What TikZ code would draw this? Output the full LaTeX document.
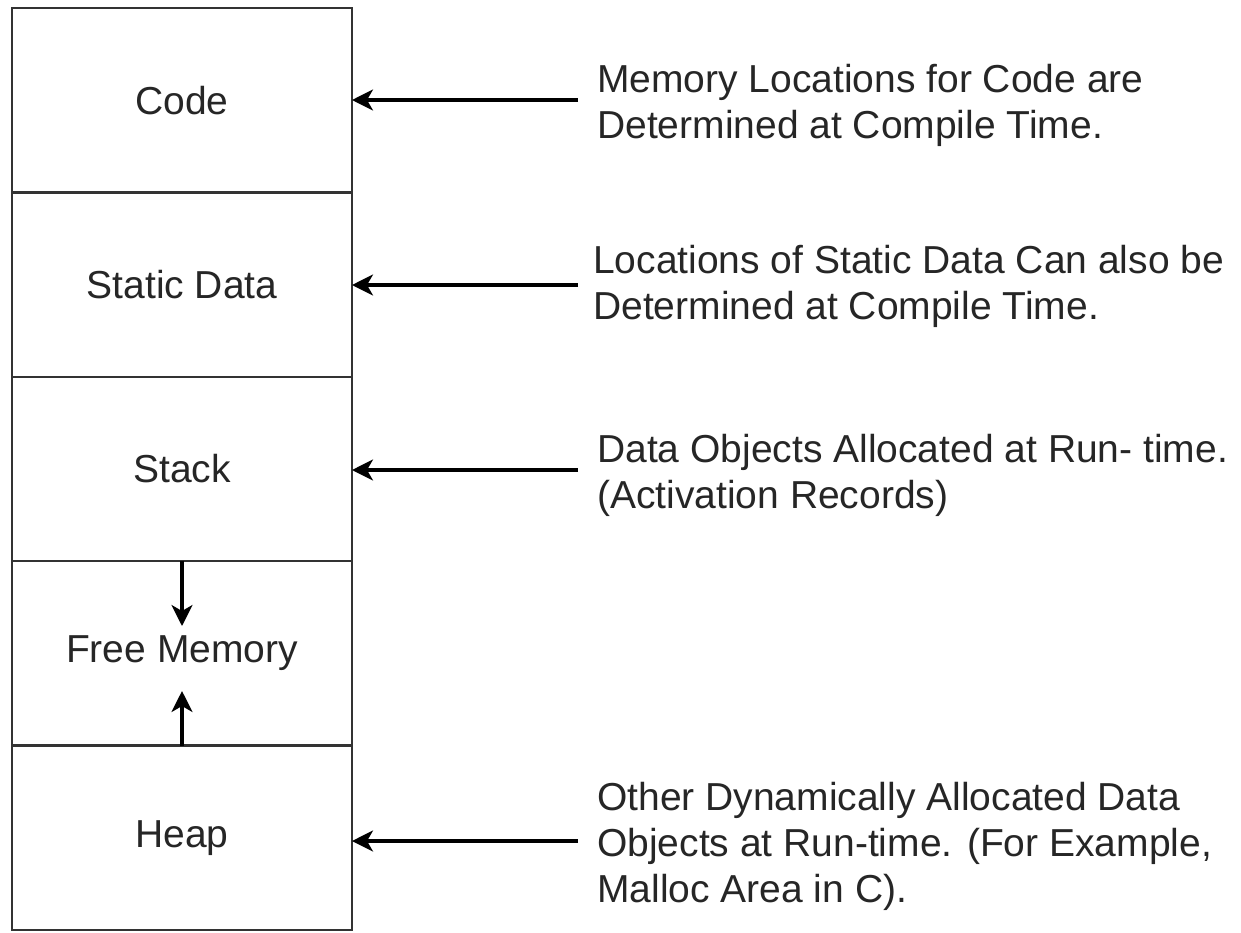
\documentclass[tikz,border=0pt]{standalone}
\usepackage{fontspec}
\setmainfont{Liberation Sans}
\usetikzlibrary{arrows.meta}
\begin{document}
\begin{tikzpicture}[x=1pt,y=-1pt,
  seg/.style={draw=black!80, line width=2.5pt, minimum width=340pt, minimum height=184.4pt,
    inner sep=0pt, outer sep=0pt, anchor=north west,
    font=\fontsize{39}{46}\selectfont, text=black!85},
  note/.style={anchor=west, align=left, inner sep=0pt,
    font=\fontsize{39}{46}\selectfont, text=black!85},
  pointer/.style={line width=3.2pt, -{Stealth[length=21pt,width=21pt,inset=6pt]}}]
\useasboundingbox (0,0) rectangle (1241,932);
\fill[white] (0,0) rectangle (1241,932);
% memory segments
\node[seg] (code)   at (12,8)     {Code};
\node[seg] (static) at (12,192.4) {Static Data};
\node[seg] (stack)  at (12,376.8) {Stack};
\node[seg] (free)   at (12,561.2) {Free Memory};
\node[seg] (heap)   at (12,745.6) {Heap};
% growth arrows inside free memory
\coordinate (fdown) at (184,626);
\coordinate (fup)   at (184,691);
\draw[pointer] (free.north) -- (free.north |- fdown);
\draw[pointer] (heap.north) -- (heap.north |- fup);
% annotation start points
\coordinate (a1) at (578,100);
\coordinate (a2) at (578,285);
\coordinate (a3) at (578,470);
\coordinate (a4) at (578,841);
\draw[pointer] (a1) -- (a1 -| code.east);
\draw[pointer] (a2) -- (a2 -| static.east);
\draw[pointer] (a3) -- (a3 -| stack.east);
\draw[pointer] (a4) -- (a4 -| heap.east);
% notes
\node[note] (n1) at (597,105) {Memory Locations for Code are\\Determined at Compile Time.};
\node[note] (n2) at (593,286) {Locations of Static Data Can also be\\Determined at Compile Time.};
\node[note] (n3) at (597,475) {Data Objects Allocated at Run- time.\\(Activation Records)};
\node[note] (n4) at (597,846) {Other Dynamically Allocated Data\\Objects at Run-time. (For Example,\\Malloc Area in C).};
\end{tikzpicture}
\end{document}
